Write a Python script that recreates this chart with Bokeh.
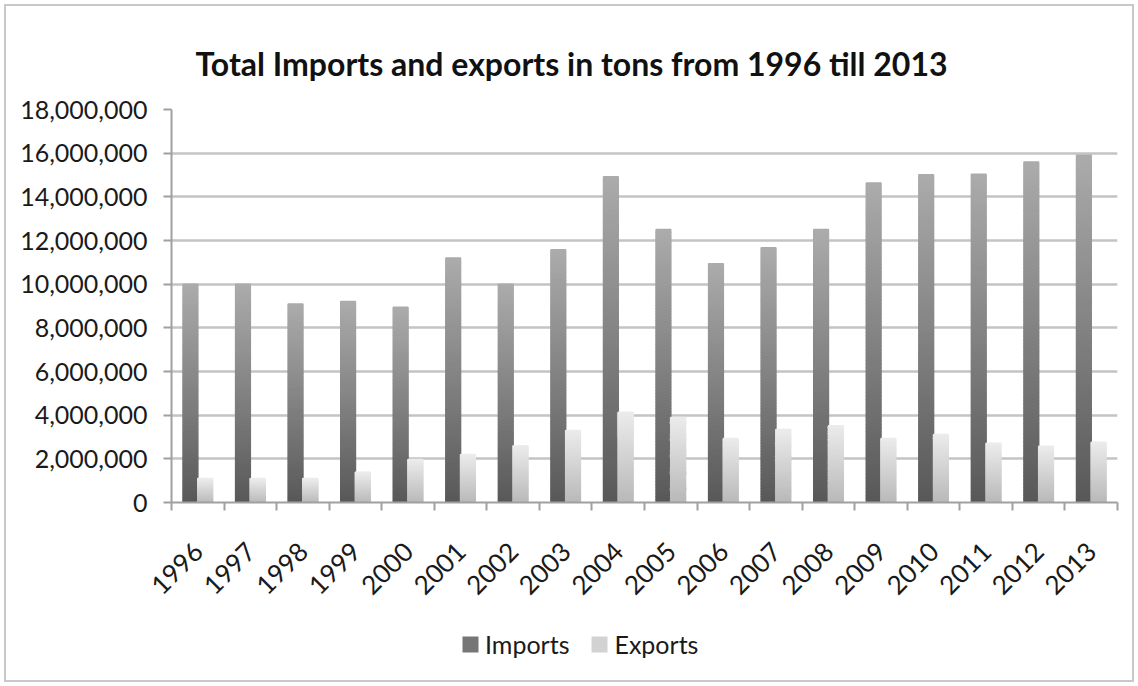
from bokeh.plotting import figure
from bokeh.layouts import column
from bokeh.models import (ColumnDataSource, FixedTicker, NumeralTickFormatter,
                          Legend, LegendItem, Range1d)
from bokeh.embed import file_html
from bokeh.resources import INLINE
import math

# Yearly tonnage
years = ["1996", "1997", "1998", "1999", "2000", "2001", "2002", "2003", "2004",
         "2005", "2006", "2007", "2008", "2009", "2010", "2011", "2012", "2013"]
imports = [10000000, 10000000, 9090000, 9210000, 8940000, 11200000, 10000000, 11580000,
           14920000, 12500000, 10940000, 11670000, 12500000, 14630000, 15010000,
           15040000, 15600000, 15900000]
exports = [1100000, 1100000, 1100000, 1390000, 1970000, 2200000, 2600000, 3300000,
           4130000, 3890000, 2930000, 3340000, 3520000, 2930000, 3110000, 2710000,
           2580000, 2760000]
y_ticks = [0, 2000000, 4000000, 6000000, 8000000, 10000000, 12000000, 14000000,
           16000000, 18000000]
series_names = ["Imports", "Exports"]

FONT = "Lato"
N_SLICES = 90
BAR_W = 0.28
IMP_TOP, IMP_BOTTOM = "#ababab", "#585858"
EXP_TOP, EXP_BOTTOM = "#ebebeb", "#b8b8b8"


def lerp_hex(c_top, c_bottom, t):
    """t=0 -> bottom colour, t=1 -> top colour."""
    a = [int(c_bottom[i:i + 2], 16) for i in (1, 3, 5)]
    b = [int(c_top[i:i + 2], 16) for i in (1, 3, 5)]
    return "#%02x%02x%02x" % tuple(round(a[k] + (b[k] - a[k]) * t) for k in range(3))


def gradient_bars(values, offset, c_top, c_bottom):
    """Split every bar into thin horizontal bands shaded from dark (base) to light (top)."""
    d = dict(left=[], right=[], bottom=[], top=[], color=[])
    for i, v in enumerate(values):
        for k in range(N_SLICES):
            d["left"].append(i + 0.5 + offset)
            d["right"].append(i + 0.5 + offset + BAR_W)
            d["bottom"].append(v * k / N_SLICES)
            d["top"].append(v * (k + 1) / N_SLICES)
            d["color"].append(lerp_hex(c_top, c_bottom, (k + 0.5) / N_SLICES))
    return ColumnDataSource(d)


p = figure(width=1138, height=620, output_backend="svg", toolbar_location=None,
           x_range=Range1d(0, len(years)), y_range=Range1d(0, 18000000),
           min_border_left=171, min_border_right=21, min_border_top=109,
           min_border_bottom=118)
p.outline_line_color = None
p.background_fill_color = "white"
p.border_fill_alpha = 0

# title
p.title.text = "Total Imports and exports in tons from 1996 till 2013"
p.title.text_font = FONT
p.title.text_font_style = "bold"
p.title.text_font_size = "32px"
p.title.text_color = "#111111"
p.title.align = "left"
p.title.offset = 24
p.title.standoff = 53

# grid
p.xgrid.grid_line_color = None
p.ygrid.grid_line_color = "#c4c4c4"
p.ygrid.grid_line_width = 2.5
p.ygrid.ticker = FixedTicker(ticks=y_ticks)

# bars
imp_src = gradient_bars(imports, -BAR_W, IMP_TOP, IMP_BOTTOM)
exp_src = gradient_bars(exports, 0.0, EXP_TOP, EXP_BOTTOM)
p.quad(left="left", right="right", bottom="bottom", top="top", source=imp_src,
       fill_color="color", line_color="color", line_width=1.5)
p.quad(left="left", right="right", bottom="bottom", top="top", source=exp_src,
       fill_color="color", line_color="color", line_width=1.5)

# y axis
ya = p.yaxis[0]
ya.ticker = FixedTicker(ticks=y_ticks)
ya.formatter = NumeralTickFormatter(format="0,0")
ya.axis_line_color = "#a0a0a0"
ya.axis_line_width = 2
ya.major_tick_line_color = "#a0a0a0"
ya.major_tick_line_width = 2
ya.major_tick_out = 8
ya.major_tick_in = 0
ya.minor_tick_line_color = None
ya.major_label_standoff = 16
ya.major_label_text_font = FONT
ya.major_label_text_font_size = "25px"
ya.major_label_text_color = "#1a1a1a"

# x axis: year labels at centres, tick marks on category boundaries
xa = p.xaxis[0]
centers = [i + 0.5 for i in range(len(years))]
xa.ticker = FixedTicker(ticks=centers, minor_ticks=list(range(len(years) + 1)))
xa.major_label_overrides = {c: y for c, y in zip(centers, years)}
xa.major_label_orientation = math.pi / 4
xa.major_tick_line_color = None
xa.minor_tick_line_color = "#a0a0a0"
xa.minor_tick_line_width = 2
xa.minor_tick_out = 8
xa.minor_tick_in = 0
xa.axis_line_color = "#a0a0a0"
xa.axis_line_width = 2
xa.major_label_standoff = 36
xa.major_label_text_font = FONT
xa.major_label_text_font_size = "26px"
xa.major_label_text_color = "#1a1a1a"

# legend strip underneath the chart (frame lines up with the chart frame)
lf = figure(width=1138, height=66, output_backend="svg", toolbar_location=None,
            x_axis_location=None, y_axis_location=None,
            x_range=Range1d(0, 1), y_range=Range1d(0, 1),
            min_border=0, min_border_left=0, min_border_right=0,
            min_border_top=0, min_border_bottom=0)
lf.outline_line_color = None
lf.grid.grid_line_color = None
lf.background_fill_alpha = 0
lf.border_fill_alpha = 0
# swatch renderers kept outside the visible range; only their legend glyphs show
r_imp = lf.quad(left=[5], right=[6], bottom=[5], top=[6],
                fill_color="#767676", line_color=None)
r_exp = lf.quad(left=[5], right=[6], bottom=[5], top=[6],
                fill_color="#d2d2d2", line_color=None)
legend = Legend(items=[LegendItem(label=series_names[0], renderers=[r_imp]),
                       LegendItem(label=series_names[1], renderers=[r_exp])],
                orientation="horizontal", location=(289, 27),
                glyph_width=20, glyph_height=20, label_standoff=5, spacing=20,
                label_text_font=FONT, label_text_font_size="25px",
                label_text_color="#1a1a1a", border_line_color=None,
                background_fill_alpha=0, padding=0, margin=0)
lf.add_layout(legend)

layout = column(p, lf, spacing=0,
                styles={"background-color": "white",
                        "outline": "2.5px solid #c8c8c8", "outline-offset": "-6px"})

open("out.html", "w").write(file_html(layout, INLINE))
